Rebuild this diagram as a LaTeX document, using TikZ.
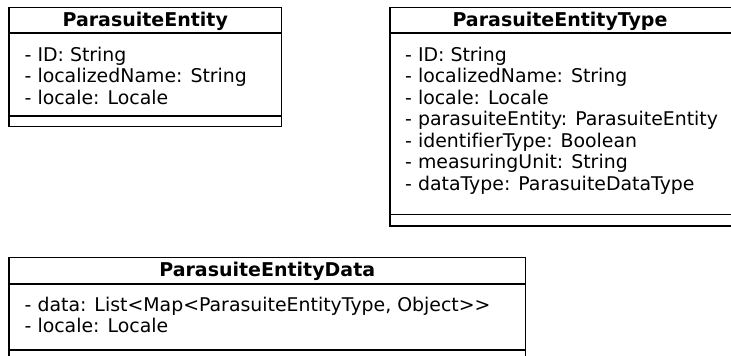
\documentclass[tikz,border=0pt]{standalone}
\usepackage{fontspec}
\setmainfont[Ligatures={NoCommon}]{DejaVu Sans}
\begin{document}
\begin{tikzpicture}[x=1pt,y=-1pt,
  classbox/.style={draw=black,line width=1.8pt},
  sep/.style={draw=black,line width=1.8pt},
  title/.style={font=\fontsize{19}{22}\selectfont\bfseries,anchor=base,inner sep=0pt},
  attr/.style={font=\fontsize{18.9}{22}\selectfont,anchor=base west,inner sep=0pt}]
\useasboundingbox (0,0) rectangle (731,356);

% ParasuiteEntity
\draw[classbox] (9,7.5) rectangle (281.5,126.5);
\draw[sep] (9,33) -- (281.5,33);
\draw[sep] (9,116) -- (281.5,116);
\node[title] (pe) at (145.25,27) {ParasuiteEntity};
\node[attr] (pe1) at (24.5,61) {- ID: String};
\node[attr] (pe2) at (24.5,82.5) {- localizedName: String};
\node[attr] (pe3) at (24.5,104) {- locale: Locale};

% ParasuiteEntityType
\draw[classbox] (390,7.5) rectangle (740,226);
\draw[sep] (390,33) -- (740,33);
\draw[sep] (390,214.5) -- (740,214.5);
\node[title] (pet) at (560,27) {ParasuiteEntityType};
\node[attr] (pet1) at (405,61) {- ID: String};
\node[attr] (pet2) at (405,82.5) {- localizedName: String};
\node[attr] (pet3) at (405,104) {- locale: Locale};
\node[attr] (pet4) at (405,125.5) {- parasuiteEntity: ParasuiteEntity};
\node[attr] (pet5) at (405,147) {- identifierType: Boolean};
\node[attr] (pet6) at (405,168.5) {- measuringUnit: String};
\node[attr] (pet7) at (405,190) {- dataType: ParasuiteDataType};

% ParasuiteEntityData
\draw[classbox] (9,257.5) rectangle (525.5,370);
\draw[sep] (9,284) -- (525.5,284);
\draw[sep] (9,350) -- (525.5,350);
\node[title] (ped) at (267.25,276.5) {ParasuiteEntityData};
\node[attr] (ped1) at (24.5,311) {- data: List<Map<ParasuiteEntityType, Object>{}>};
\node[attr] (ped2) at (24.5,332.5) {- locale: Locale};
\end{tikzpicture}
\end{document}
